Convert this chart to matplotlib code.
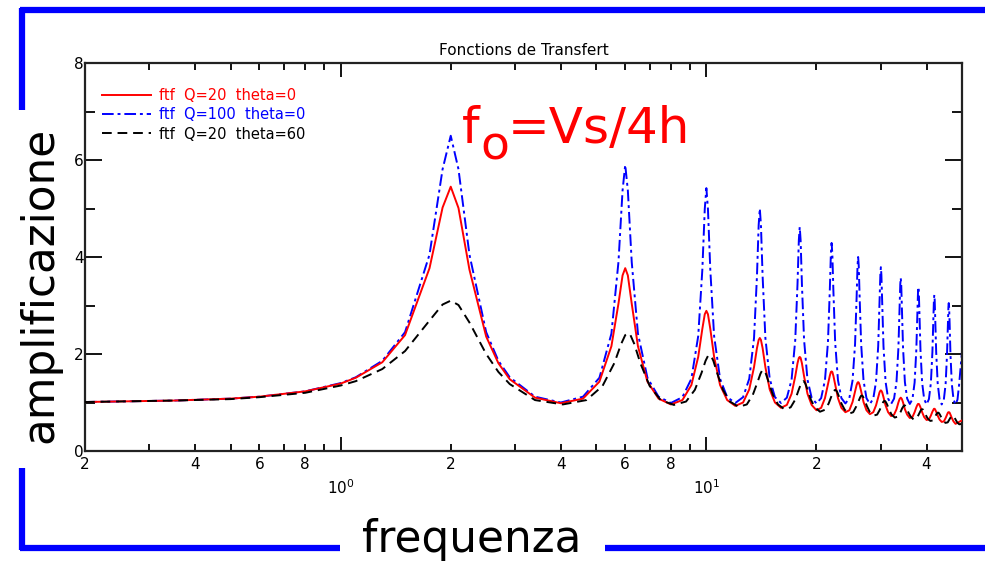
"""
Fonctions de Transfert - amplificazione vs frequenza (log scale)
"""

import matplotlib.pyplot as plt
from matplotlib.ticker import FixedLocator, FixedFormatter

# frequencies (Hz) sampled for the theta=0 curves
freq = [
    0.2, 0.35, 0.5, 0.6, 0.8, 1.0, 1.1, 1.3, 1.5, 1.75, 1.9, 2.0, 2.1, 2.25, 2.5, 2.7, 2.9, 3.4, 4.0,
    4.6, 5.1, 5.5, 5.75, 5.9, 6.0, 6.1, 6.25, 6.5, 6.9, 7.4, 8.0,
    8.6, 9.1, 9.5, 9.75, 9.9, 10.0, 10.1, 10.25, 10.5, 10.9, 11.4, 12.0,
    12.6, 13.1, 13.5, 13.75, 13.9, 14.0, 14.1, 14.25, 14.5, 14.9, 15.4, 16.0,
    16.6, 17.1, 17.5, 17.75, 17.9, 18.0, 18.1, 18.25, 18.5, 18.9, 19.4, 20.0,
    20.6, 21.1, 21.5, 21.75, 21.9, 22.0, 22.1, 22.25, 22.5, 22.9, 23.4, 24.0,
    24.6, 25.1, 25.5, 25.75, 25.9, 26.0, 26.1, 26.25, 26.5, 26.9, 27.4, 28.0,
    28.6, 29.1, 29.5, 29.75, 29.9, 30.0, 30.1, 30.25, 30.5, 30.9, 31.4, 32.0,
    32.6, 33.1, 33.5, 33.75, 33.9, 34.0, 34.1, 34.25, 34.5, 34.9, 35.4, 36.0,
    36.6, 37.1, 37.5, 37.75, 37.9, 38.0, 38.1, 38.25, 38.5, 38.9, 39.4, 40.0,
    40.6, 41.1, 41.5, 41.75, 41.9, 42.0, 42.1, 42.25, 42.5, 42.9, 43.4, 44.0,
    44.6, 45.1, 45.5, 45.75, 45.9, 46.0, 46.1, 46.25, 46.5, 46.9, 47.4, 48.0,
    48.6, 49.1, 50.0]

# ftf Q=20 theta=0 (red)
amp_q20 = [
    1.01, 1.04, 1.08, 1.12, 1.23, 1.39, 1.51, 1.83, 2.39, 3.77, 5.02, 5.45, 5.01, 3.74, 2.36, 1.81, 1.48, 1.10, 0.985,
    1.08, 1.43, 2.16, 3.04, 3.62, 3.77, 3.62, 3.04, 2.16, 1.43, 1.08, 0.96,
    1.05, 1.36, 1.94, 2.52, 2.82, 2.89, 2.82, 2.52, 1.94, 1.36, 1.05, 0.93,
    1.00, 1.27, 1.73, 2.12, 2.29, 2.33, 2.29, 2.12, 1.73, 1.27, 1.00, 0.89,
    0.95, 1.18, 1.54, 1.81, 1.92, 1.94, 1.92, 1.81, 1.54, 1.18, 0.95, 0.84,
    0.89, 1.09, 1.37, 1.55, 1.63, 1.64, 1.63, 1.55, 1.37, 1.09, 0.89, 0.80,
    0.84, 1.01, 1.23, 1.36, 1.41, 1.42, 1.41, 1.36, 1.23, 1.01, 0.84, 0.76,
    0.80, 0.94, 1.11, 1.21, 1.24, 1.25, 1.24, 1.21, 1.11, 0.94, 0.80, 0.72,
    0.75, 0.86, 1.00, 1.07, 1.09, 1.10, 1.09, 1.07, 1.00, 0.86, 0.75, 0.68,
    0.70, 0.80, 0.90, 0.95, 0.97, 0.97, 0.97, 0.95, 0.90, 0.80, 0.70, 0.64,
    0.65, 0.73, 0.81, 0.85, 0.87, 0.87, 0.87, 0.85, 0.81, 0.73, 0.65, 0.60,
    0.61, 0.68, 0.75, 0.79, 0.80, 0.80, 0.80, 0.79, 0.75, 0.68, 0.61, 0.56,
    0.58, 0.60, 0.63]

# ftf Q=100 theta=0 (blue)
amp_q100 = [
    1.01, 1.04, 1.08, 1.12, 1.23, 1.40, 1.52, 1.86, 2.45, 4.05, 5.81, 6.50, 5.81, 4.05, 2.45, 1.86, 1.52, 1.12, 1.00,
    1.12, 1.51, 2.42, 3.90, 5.37, 5.90, 5.37, 3.90, 2.42, 1.51, 1.12, 0.99,
    1.11, 1.49, 2.37, 3.74, 4.99, 5.42, 4.99, 3.74, 2.37, 1.49, 1.11, 0.99,
    1.11, 1.49, 2.33, 3.60, 4.66, 5.00, 4.66, 3.60, 2.33, 1.49, 1.11, 0.99,
    1.10, 1.47, 2.29, 3.44, 4.35, 4.62, 4.35, 3.44, 2.29, 1.47, 1.10, 0.98,
    1.09, 1.46, 2.24, 3.30, 4.07, 4.29, 4.07, 3.30, 2.24, 1.46, 1.09, 0.98,
    1.09, 1.45, 2.20, 3.16, 3.82, 4.00, 3.82, 3.16, 2.20, 1.45, 1.09, 0.97,
    1.08, 1.43, 2.16, 3.05, 3.63, 3.79, 3.63, 3.05, 2.16, 1.43, 1.08, 0.97,
    1.08, 1.42, 2.12, 2.93, 3.44, 3.57, 3.44, 2.93, 2.12, 1.42, 1.08, 0.97,
    1.07, 1.41, 2.08, 2.83, 3.27, 3.38, 3.27, 2.83, 2.08, 1.41, 1.07, 0.96,
    1.07, 1.40, 2.04, 2.73, 3.12, 3.22, 3.12, 2.73, 2.04, 1.40, 1.07, 0.96,
    1.06, 1.38, 1.99, 2.63, 2.97, 3.05, 2.97, 2.63, 1.99, 1.38, 1.06, 0.96,
    1.06, 1.37, 2.05]

# frequencies for the theta=60 curve (peaks slightly shifted up)
freq_60 = [
    0.2, 0.35, 0.5, 0.6, 0.8, 1.0, 1.1, 1.3, 1.5, 1.75, 1.9, 2.0, 2.1, 2.25, 2.5, 2.7, 2.9, 3.4, 4.05,
    4.7, 5.2, 5.6, 5.85, 6.0, 6.1, 6.2, 6.35, 6.6, 7.0, 7.5, 8.15,
    8.8, 9.3, 9.7, 9.95, 10.1, 10.2, 10.3, 10.45, 10.7, 11.1, 11.6, 12.25,
    12.9, 13.4, 13.8, 14.05, 14.2, 14.3, 14.4, 14.55, 14.8, 15.2, 15.7, 16.35,
    17.0, 17.5, 17.9, 18.15, 18.3, 18.4, 18.5, 18.65, 18.9, 19.3, 19.8, 20.45,
    21.1, 21.6, 22.0, 22.25, 22.4, 22.5, 22.6, 22.75, 23.0, 23.4, 23.9, 24.55,
    25.2, 25.7, 26.1, 26.35, 26.5, 26.6, 26.7, 26.85, 27.1, 27.5, 28.0, 28.65,
    29.3, 29.8, 30.2, 30.45, 30.6, 30.7, 30.8, 30.95, 31.2, 31.6, 32.1, 32.75,
    33.4, 33.9, 34.3, 34.55, 34.7, 34.8, 34.9, 35.05, 35.3, 35.7, 36.2, 36.85,
    37.5, 38.0, 38.4, 38.65, 38.8, 38.9, 39.0, 39.15, 39.4, 39.8, 40.3, 40.95,
    41.6, 42.1, 42.5, 42.75, 42.9, 43.0, 43.1, 43.25, 43.5, 43.9, 44.4, 45.05,
    45.7, 46.2, 46.6, 46.85, 47.0, 47.1, 47.2, 47.35, 47.6, 48.0, 48.5, 49.15,
    50.0]

# ftf Q=20 theta=60 (black)
amp_q20_60 = [
    1.01, 1.04, 1.07, 1.11, 1.20, 1.35, 1.44, 1.69, 2.06, 2.69, 3.02, 3.10, 3.01, 2.65, 2.00, 1.63, 1.38, 1.05, 0.96,
    1.05, 1.34, 1.81, 2.21, 2.39, 2.43, 2.39, 2.21, 1.81, 1.34, 1.05, 0.95,
    1.02, 1.26, 1.61, 1.86, 1.96, 1.98, 1.96, 1.86, 1.61, 1.26, 1.02, 0.91,
    0.96, 1.16, 1.42, 1.59, 1.66, 1.67, 1.66, 1.59, 1.42, 1.16, 0.96, 0.86,
    0.90, 1.06, 1.27, 1.39, 1.43, 1.44, 1.43, 1.39, 1.27, 1.06, 0.90, 0.81,
    0.85, 0.98, 1.14, 1.23, 1.25, 1.26, 1.25, 1.23, 1.14, 0.98, 0.85, 0.77,
    0.80, 0.92, 1.04, 1.11, 1.14, 1.14, 1.14, 1.11, 1.04, 0.92, 0.80, 0.73,
    0.75, 0.85, 0.96, 1.01, 1.03, 1.03, 1.03, 1.01, 0.96, 0.85, 0.75, 0.69,
    0.71, 0.79, 0.88, 0.92, 0.94, 0.94, 0.94, 0.92, 0.88, 0.79, 0.71, 0.65,
    0.67, 0.74, 0.81, 0.85, 0.86, 0.86, 0.86, 0.85, 0.81, 0.74, 0.67, 0.62,
    0.63, 0.69, 0.75, 0.78, 0.79, 0.79, 0.79, 0.78, 0.75, 0.69, 0.63, 0.58,
    0.59, 0.65, 0.70, 0.72, 0.73, 0.73, 0.73, 0.72, 0.70, 0.65, 0.59, 0.55,
    0.56]

labels = ['ftf  Q=20  theta=0', 'ftf  Q=100  theta=0', 'ftf  Q=20  theta=60']

# tick positions and labels
x_major = [1, 10]
x_major_labels = ['$10^{0}$', '$10^{1}$']
x_minor = [0.2, 0.3, 0.4, 0.5, 0.6, 0.7, 0.8, 0.9,
           2, 3, 4, 5, 6, 7, 8, 9, 20, 30, 40]
x_minor_labels = ['2', '', '4', '', '6', '', '8', '',
                  '2', '', '4', '', '6', '', '8', '', '2', '', '4']
y_major = [0, 2, 4, 6, 8]
y_minor = [1, 3, 5, 7]

W, H = 985, 566
fig = plt.figure(figsize=(W / 100, H / 100), dpi=100)
ax = fig.add_axes([85 / W, 115 / H, 877 / W, 388 / H])

# curves
ax.plot(freq, amp_q20, color='red', lw=1.4, label=labels[0], zorder=3)
ax.plot(freq, amp_q100, color='blue', lw=1.4, ls=(0, (6, 2, 1.5, 2)),
        label=labels[1], zorder=2)
ax.plot(freq_60, amp_q20_60, color='black', lw=1.4, ls=(0, (5, 3)),
        label=labels[2], zorder=4)

ax.set_xscale('log')
ax.set_xlim(0.2, 50)
ax.set_ylim(0, 8)

ax.xaxis.set_major_locator(FixedLocator(x_major))
ax.xaxis.set_major_formatter(FixedFormatter(x_major_labels))
ax.xaxis.set_minor_locator(FixedLocator(x_minor))
ax.xaxis.set_minor_formatter(FixedFormatter(x_minor_labels))
ax.set_yticks(y_major)
ax.set_yticks(y_minor, minor=True)

ax.tick_params(which='both', direction='in', top=True, right=True,
               width=1.3, labelsize=11, colors='black')
ax.tick_params(axis='x', which='major', length=10, pad=20)
ax.tick_params(axis='x', which='minor', length=5, pad=4)
ax.tick_params(axis='y', which='major', length=12, pad=1)
ax.tick_params(axis='y', which='minor', length=7)

for sp in ax.spines.values():
    sp.set_linewidth(1.6)
    sp.set_color('#222222')

ax.set_title('Fonctions de Transfert', fontsize=11, pad=6)

ax.legend(loc='upper left', bbox_to_anchor=(0.019, 0.936), frameon=False,
          handlelength=3.4, handletextpad=0.5, labelspacing=0.3,
          borderaxespad=0, borderpad=0, fontsize=10.5, labelcolor='linecolor')

# big annotations
fig.text(462 / W, 1 - 143 / H, 'f', fontsize=36, color='red', va='baseline')
fig.text(480 / W, 1 - 160 / H, 'o', fontsize=34, color='red', va='baseline')
fig.text(508 / W, 1 - 143 / H, '=Vs/4h', fontsize=36, color='red', va='baseline')

fig.text(40 / W, 1 - 285 / H, 'amplificazione', rotation=90, fontsize=31.5,
         ha='center', va='center')
fig.text(472 / W, 1 - 552 / H, 'frequenza', fontsize=31.5,
         ha='center', va='baseline')

# blue slide frame
frame = fig.add_axes([0, 0, 1, 1], zorder=-1)
frame.set_xlim(0, W)
frame.set_ylim(H, 0)
frame.axis('off')
kw = dict(color='blue', lw=4.5, solid_capstyle='butt')
frame.plot([20, W], [10, 10], **kw)
frame.plot([22, 22], [8, 110], **kw)
frame.plot([22, 22], [468, 550], **kw)
frame.plot([20, 340], [548, 548], **kw)
frame.plot([605, W], [548, 548], **kw)

fig.savefig('out.png', dpi=100)
